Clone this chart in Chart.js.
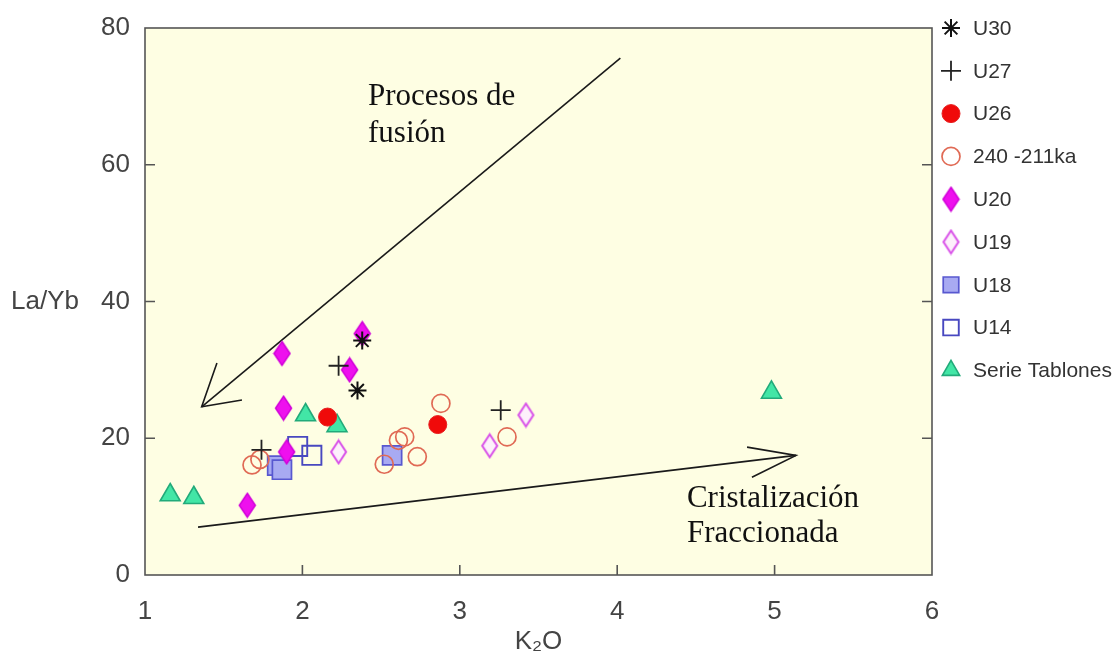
<!DOCTYPE html>
<html>
<head>
<meta charset="utf-8">
<script src="https://cdn.jsdelivr.net/npm/chart.js@4.4.0/dist/chart.umd.min.js"></script>
<style>
  body { margin: 0; background: #fff; }
  canvas { display: block; }
</style>
</head>
<body>
<canvas id="grafica" width="1120" height="659"></canvas>
<script>
// datos: [K2O, La/Yb]
const u30 = [[2.38, 34.3], [2.35, 27.0]];
const u27 = [[1.74, 18.3], [2.23, 30.6], [3.26, 24.1]];
const u26 = [[2.16, 23.1], [2.86, 22.0]];
const ka240 = [[1.68, 16.1], [1.73, 16.9], [2.52, 16.2], [2.61, 19.7], [2.65, 20.2], [2.73, 17.3], [2.88, 25.1], [3.30, 20.2]];
const u20 = [[1.87, 32.4], [1.88, 24.4], [1.90, 18.0], [1.65, 10.2], [2.38, 35.3], [2.30, 30.0]];
const u19 = [[2.23, 18.0], [3.19, 18.9], [3.42, 23.4]];
const u18 = [[1.84, 16.0], [1.87, 15.4], [2.57, 17.5]];
const u14 = [[1.97, 18.8], [2.06, 17.5]];
const tablones = [[1.16, 11.7], [1.31, 11.3], [2.02, 23.4], [2.22, 21.8], [4.98, 26.7]];

const etiquetas = ['U30', 'U27', 'U26', '240 -211ka', 'U20', 'U19', 'U18', 'U14', 'Serie Tablones'];
const xTicks = [1, 2, 3, 4, 5, 6];
const yTicks = [0, 20, 40, 60, 80];

// flechas y textos (en unidades de los ejes)
const flechaFusion = [[4.02, 75.6], [1.36, 24.6]];
const puntasFusion = [[1.457, 31.0], [1.616, 25.6]];
const flechaCrist = [[1.337, 7.0], [5.136, 17.5]];
const puntasCrist = [[4.825, 18.7], [4.856, 14.3]];
const textos = [
  ['Procesos de', 2.417, 68.7],
  ['fusión', 2.417, 63.3],
  ['Cristalización', 4.443, 9.9],
  ['Fraccionada', 4.443, 4.8]
];

const fuente = '"Liberation Sans", Arial, sans-serif';

function rombo(w, h, relleno, borde, lw) {
  const c = document.createElement('canvas');
  c.width = w + 2 * lw;
  c.height = h + 2 * lw;
  const g = c.getContext('2d');
  const cx = c.width / 2, cy = c.height / 2;
  g.beginPath();
  g.moveTo(cx, cy - h / 2);
  g.lineTo(cx + w / 2, cy);
  g.lineTo(cx, cy + h / 2);
  g.lineTo(cx - w / 2, cy);
  g.closePath();
  if (relleno) { g.fillStyle = relleno; g.fill(); }
  g.strokeStyle = borde;
  g.lineWidth = lw;
  g.stroke();
  return c;
}

const romboLleno = rombo(16, 24, '#ee10ee', '#d000d8', 1.5);
const romboVacio = rombo(15, 23, '#fdf0fb', '#d850e8', 2);

const toXY = arr => arr.map(p => ({ x: p[0], y: p[1] }));

const datasets = [
  { label: etiquetas[0], data: toXY(u30), pointStyle: 'star', pointRadius: 9,
    pointBorderColor: '#111', pointBackgroundColor: '#111', pointBorderWidth: 2 },
  { label: etiquetas[1], data: toXY(u27), pointStyle: 'cross', pointRadius: 10,
    pointBorderColor: '#222', pointBackgroundColor: '#222', pointBorderWidth: 1.8 },
  { label: etiquetas[2], data: toXY(u26), pointStyle: 'circle', pointRadius: 9,
    pointBorderColor: '#e82020', pointBackgroundColor: '#f00a0a', pointBorderWidth: 1 },
  { label: etiquetas[3], data: toXY(ka240), pointStyle: 'circle', pointRadius: 9,
    pointBorderColor: '#e06a55', pointBackgroundColor: 'rgba(0,0,0,0)', pointBorderWidth: 1.7 },
  { label: etiquetas[4], data: toXY(u20), pointStyle: romboLleno, pointRadius: 10,
    pointBorderColor: '#d000d8', pointBackgroundColor: '#ee10ee', pointBorderWidth: 0 },
  { label: etiquetas[5], data: toXY(u19), pointStyle: romboVacio, pointRadius: 10,
    pointBorderColor: '#d850e8', pointBackgroundColor: '#fdf0fb', pointBorderWidth: 0 },
  { label: etiquetas[6], data: toXY(u18), pointStyle: 'rect', pointRadius: 13.5,
    pointBorderColor: '#5858d0', pointBackgroundColor: '#a8aaf2', pointBorderWidth: 1.7 },
  { label: etiquetas[7], data: toXY(u14), pointStyle: 'rect', pointRadius: 13.5,
    pointBorderColor: '#4848c0', pointBackgroundColor: 'rgba(0,0,0,0)', pointBorderWidth: 1.9 },
  { label: etiquetas[8], data: toXY(tablones), pointStyle: 'triangle', pointRadius: 11.5,
    pointBorderColor: '#22aa7a', pointBackgroundColor: '#42e6a6', pointBorderWidth: 1.6 }
];
datasets.forEach(d => { d.showLine = false; d.borderColor = d.pointBorderColor; d.backgroundColor = d.pointBackgroundColor; });

function linea(ctx, sx, sy, pts) {
  ctx.beginPath();
  ctx.moveTo(sx.getPixelForValue(pts[0][0]), sy.getPixelForValue(pts[0][1]));
  for (let i = 1; i < pts.length; i++) {
    ctx.lineTo(sx.getPixelForValue(pts[i][0]), sy.getPixelForValue(pts[i][1]));
  }
  ctx.stroke();
}

const decoracion = {
  id: 'decoracion',
  beforeDraw(chart) {
    const ctx = chart.ctx, a = chart.chartArea;
    ctx.save();
    ctx.fillStyle = '#ffffff';
    ctx.fillRect(0, 0, chart.width, chart.height);
    ctx.fillStyle = '#fefee3';
    ctx.fillRect(a.left, a.top, a.right - a.left, a.bottom - a.top);
    ctx.restore();
  },
  beforeDatasetsDraw(chart) {
    const ctx = chart.ctx, sx = chart.scales.x, sy = chart.scales.y;
    ctx.save();
    ctx.strokeStyle = '#1a1a1a';
    ctx.lineWidth = 1.6;
    linea(ctx, sx, sy, flechaFusion);
    linea(ctx, sx, sy, [puntasFusion[0], flechaFusion[1], puntasFusion[1]]);
    linea(ctx, sx, sy, flechaCrist);
    linea(ctx, sx, sy, [puntasCrist[0], flechaCrist[1], puntasCrist[1]]);
    ctx.fillStyle = '#111';
    ctx.font = '31px "Liberation Serif", "Times New Roman", serif';
    ctx.textBaseline = 'alphabetic';
    ctx.textAlign = 'left';
    textos.forEach(t => ctx.fillText(t[0], sx.getPixelForValue(t[1]), sy.getPixelForValue(t[2])));
    ctx.restore();
  },
  afterDraw(chart) {
    const ctx = chart.ctx, a = chart.chartArea, sx = chart.scales.x, sy = chart.scales.y;
    ctx.save();
    // marco y marcas hacia dentro
    ctx.strokeStyle = '#555';
    ctx.lineWidth = 1.6;
    ctx.strokeRect(a.left, a.top, a.right - a.left, a.bottom - a.top);
    ctx.beginPath();
    yTicks.slice(1, -1).forEach(v => {
      const py = sy.getPixelForValue(v);
      ctx.moveTo(a.left, py); ctx.lineTo(a.left + 10, py);
      ctx.moveTo(a.right, py); ctx.lineTo(a.right - 10, py);
    });
    xTicks.slice(1, -1).forEach(v => {
      const px = sx.getPixelForValue(v);
      ctx.moveTo(px, a.bottom); ctx.lineTo(px, a.bottom - 10);
    });
    ctx.stroke();
    // titulo eje y
    ctx.fillStyle = '#444';
    ctx.font = '26px ' + fuente;
    ctx.textAlign = 'left';
    ctx.textBaseline = 'middle';
    ctx.fillText('La/Yb', 11, sy.getPixelForValue(40));
    // leyenda
    ctx.font = '21px ' + fuente;
    chart.data.datasets.forEach((d, i) => {
      const y = a.top + i * 42.8;
      ctx.fillStyle = d.pointBackgroundColor;
      ctx.strokeStyle = d.pointBorderColor;
      ctx.lineWidth = d.pointBorderWidth;
      const r = d.pointStyle === 'rect' ? 11 : (d.pointStyle === 'triangle' ? 10 : d.pointRadius);
      Chart.helpers.drawPoint(ctx, { pointStyle: d.pointStyle, radius: r, borderWidth: d.pointBorderWidth, rotation: 0 }, 951, y);
      ctx.fillStyle = '#333';
      ctx.fillText(d.label, 973, y + 1);
    });
    ctx.restore();
  }
};

new Chart(document.getElementById('grafica'), {
  type: 'scatter',
  data: { datasets: datasets },
  options: {
    responsive: false,
    animation: false,
    events: [],
    layout: { padding: { top: 28, right: 188, left: 0, bottom: 0 } },
    plugins: { legend: { display: false }, tooltip: { enabled: false } },
    scales: {
      x: {
        type: 'linear', min: 1, max: 6,
        afterFit: s => { s.height = 84; },
        afterBuildTicks: s => { s.ticks = xTicks.map(v => ({ value: v })); },
        grid: { display: false },
        border: { display: false },
        ticks: { color: '#444', padding: 13, font: { size: 26, family: fuente } },
        title: { display: true, text: 'K₂O', color: '#444', padding: { top: 0, bottom: 2 }, font: { size: 26, family: fuente } }
      },
      y: {
        type: 'linear', min: 0, max: 80,
        afterFit: s => { s.width = 145; },
        afterBuildTicks: s => { s.ticks = yTicks.map(v => ({ value: v })); },
        grid: { display: false },
        border: { display: false },
        ticks: { color: '#444', padding: 7, font: { size: 26, family: fuente } }
      }
    }
  },
  plugins: [decoracion]
});
</script>
</body>
</html>
